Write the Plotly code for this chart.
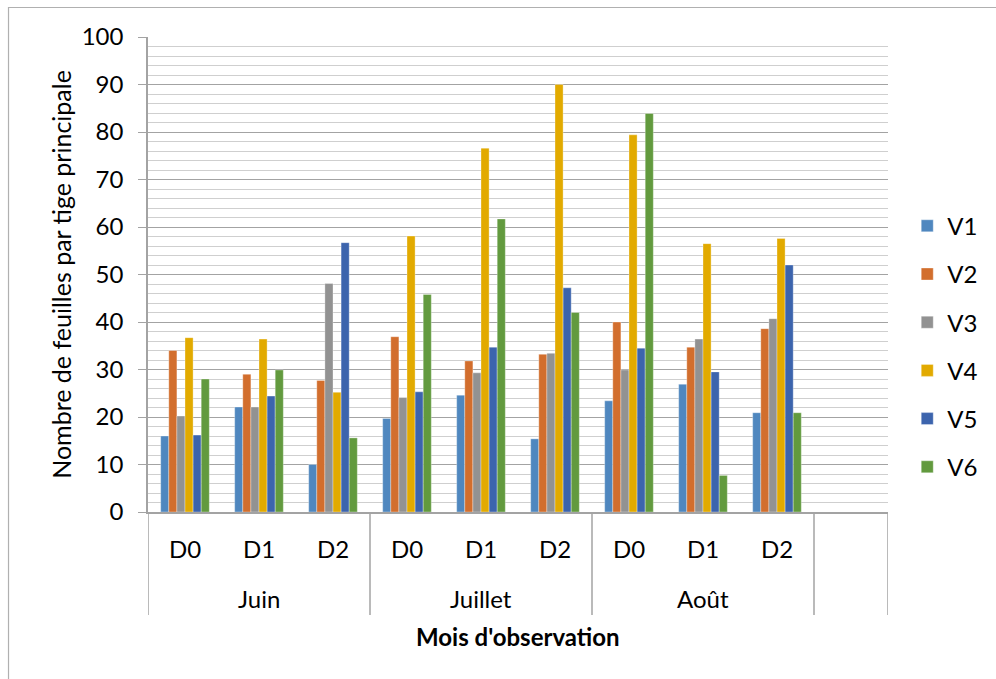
import plotly.graph_objects as go

# Observation months and leaf-removal doses
months = ["Juin", "Juillet", "Août"]
doses = ["D0", "D1", "D2"]

# Mean number of leaves per main stem, one list per variety (Juin D0..D2, Juillet D0..D2, Août D0..D2)
series_names = ["V1", "V2", "V3", "V4", "V5", "V6"]
v1 = [16.0, 22.1, 10.0, 19.7, 24.6, 15.4, 23.4, 26.9, 20.9]
v2 = [34.0, 29.0, 27.7, 36.9, 31.8, 33.2, 40.0, 34.7, 38.6]
v3 = [20.2, 22.1, 48.1, 24.1, 29.3, 33.4, 29.9, 36.4, 40.7]
v4 = [36.7, 36.4, 25.2, 58.1, 76.6, 90.0, 79.4, 56.5, 57.6]
v5 = [16.2, 24.4, 56.7, 25.3, 34.7, 47.2, 34.5, 29.5, 52.0]
v6 = [28.0, 29.9, 15.6, 45.8, 61.7, 42.0, 83.9, 7.7, 20.9]
values = [v1, v2, v3, v4, v5, v6]

colors = ["#4F87BF", "#D26E2D", "#929292", "#E2AA00", "#3C64AD", "#629A3E"]

FONT = "Lato, Calibri, Arial, sans-serif"
FS = 24
GRID = "#a3a3a3"

# one slot per month/dose pair plus an empty trailing slot
n_slots = len(months) * len(doses) + 1
x_pos = list(range(len(months) * len(doses)))

fig = go.Figure()
for name, vals, col in zip(series_names, values, colors):
    fig.add_trace(go.Bar(
        x=x_pos, y=vals, name=name, legendgroup=name,
        marker=dict(color=col, line=dict(color="rgba(255,255,255,0.55)", width=0.6)),
    ))

# dose labels under each slot
annotations = []
for i in x_pos:
    annotations.append(dict(
        x=i, y=-0.076, xref="x", yref="paper", text=doses[i % len(doses)],
        showarrow=False, yanchor="middle", xanchor="center",
        font=dict(family=FONT, size=FS, color="#000000"),
    ))
# month labels centred under their group
for m, month in enumerate(months):
    annotations.append(dict(
        x=m * len(doses) + (len(doses) - 1) / 2, y=-0.183, xref="x", yref="paper",
        text=month, showarrow=False, yanchor="middle", xanchor="center",
        font=dict(family=FONT, size=FS, color="#000000"),
    ))
# axis titles
annotations.append(dict(
    x=4.5, y=-0.263, xref="x", yref="paper",
    text="<b>Mois d'observation</b>", showarrow=False, yanchor="middle", xanchor="center",
    font=dict(family=FONT, size=FS, color="#000000"),
))
annotations.append(dict(
    x=-0.1185, y=0.5, xref="paper", yref="paper",
    text="Nombre de feuilles par tige principale", textangle=-90,
    showarrow=False, xanchor="center", yanchor="middle",
    font=dict(family=FONT, size=25, color="#000000"),
))

# group separators below the category axis
shapes = []
for b in [-0.5, 2.5, 5.5, 8.5, 9.5]:
    shapes.append(dict(
        type="line", xref="x", yref="paper", x0=b, x1=b, y0=0, y1=-0.217,
        line=dict(color=GRID, width=1.5),
    ))
# chart frame
shapes.append(dict(
    type="rect", xref="paper", yref="paper",
    x0=-0.1885, x1=1.16, y0=-0.38, y1=1.0621,
    line=dict(color="#b0b0b0", width=1.2), fillcolor="rgba(0,0,0,0)", layer="below",
))

fig.update_layout(
    width=996, height=679,
    margin=dict(l=148, r=108, t=37, b=167, pad=0),
    paper_bgcolor="white", plot_bgcolor="white",
    barmode="group", bargap=0.343, bargroupgap=0,
    font=dict(family=FONT, size=FS, color="#000000"),
    showlegend=True,
    legend=dict(
        x=1.026, xanchor="left", y=0.348, yanchor="middle",
        font=dict(family=FONT, size=FS, color="#000000"),
        tracegroupgap=14, traceorder="grouped", bgcolor="rgba(0,0,0,0)",
        itemclick=False, itemdoubleclick=False,
    ),
    annotations=annotations,
    shapes=shapes,
)

fig.update_xaxes(
    range=[-0.5, n_slots - 0.5], showticklabels=False, ticks="",
    showgrid=False, zeroline=False, showline=True, linecolor=GRID, linewidth=1.5,
    fixedrange=True,
)
fig.update_yaxes(
    range=[0, 100], dtick=10, tick0=0,
    showgrid=True, gridcolor=GRID, gridwidth=1.3,
    minor=dict(dtick=2, showgrid=True, gridcolor="#cfcfcf", gridwidth=1, ticks=""),
    ticks="outside", ticklen=8, tickcolor=GRID, tickwidth=1.3,
    ticklabelstandoff=10,
    showline=True, linecolor=GRID, linewidth=1.5, zeroline=False,
    tickfont=dict(family=FONT, size=FS, color="#000000"),
    fixedrange=True,
)

fig.write_html("out.html")
